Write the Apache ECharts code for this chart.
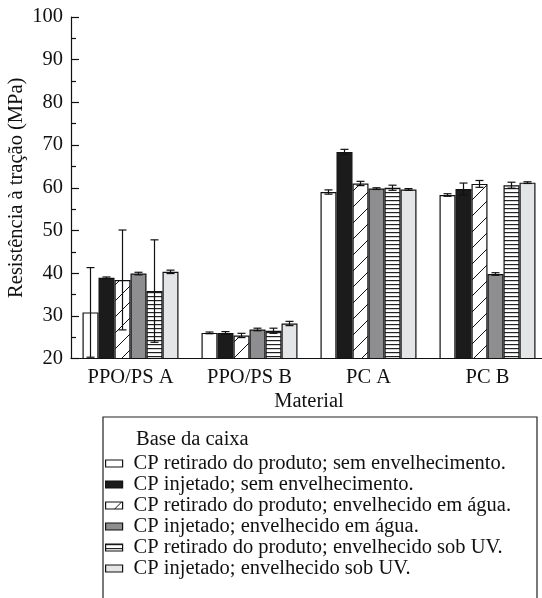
<!DOCTYPE html>
<html><head><meta charset="utf-8">
<script src="https://cdn.jsdelivr.net/npm/echarts@6/dist/echarts.min.js"></script>
<style>html,body{margin:0;padding:0;background:#fff}#c{width:542px;height:598px}</style>
</head><body><div id="c"></div>
<script>
const categories = ['PPO/PS A', 'PPO/PS B', 'PC A', 'PC B'];
const seriesNames = [
  'CP retirado do produto; sem envelhecimento.',
  'CP injetado; sem envelhecimento.',
  'CP retirado do produto; envelhecido em água.',
  'CP injetado; envelhecido em água.',
  'CP retirado do produto; envelhecido sob UV.',
  'CP injetado; envelhecido sob UV.'
];
const retiradoSem = [30.8, 26.0, 59.0, 58.3];
const retiradoSemErr = [10.5, 0.2, 0.5, 0.3];
const injetadoSem = [38.9, 26.0, 68.4, 59.7];
const injetadoSemErr = [0.2, 0.3, 0.6, 1.4];
const retiradoAgua = [38.4, 25.4, 61.0, 60.9];
const retiradoAguaErr = [11.7, 0.5, 0.5, 0.8];
const injetadoAgua = [39.9, 26.8, 59.8, 39.8];
const injetadoAguaErr = [0.3, 0.3, 0.2, 0.3];
const retiradoUV = [35.8, 26.5, 60.0, 60.6];
const retiradoUVErr = [12.0, 0.6, 0.6, 0.7];
const injetadoUV = [40.3, 28.2, 59.6, 61.2];
const injetadoUVErr = [0.4, 0.5, 0.2, 0.2];
const yTicks = [20, 30, 40, 50, 60, 70, 80, 90, 100];

const values = [retiradoSem, injetadoSem, retiradoAgua, injetadoAgua, retiradoUV, injetadoUV];
const errors = [retiradoSemErr, injetadoSemErr, retiradoAguaErr, injetadoAguaErr, retiradoUVErr, injetadoUVErr];

function diagPattern() {
  const c = document.createElement('canvas'); c.width = 16; c.height = 16;
  const g = c.getContext('2d');
  g.fillStyle = '#fff'; g.fillRect(0, 0, 16, 16);
  g.strokeStyle = '#111'; g.lineWidth = 1;
  g.beginPath(); g.moveTo(-1, 17); g.lineTo(17, -1); g.stroke();
  return {image: c, repeat: 'repeat'};
}
function stripePattern() {
  const c = document.createElement('canvas'); c.width = 8; c.height = 4;
  const g = c.getContext('2d');
  g.fillStyle = '#fff'; g.fillRect(0, 0, 8, 4);
  g.fillStyle = '#222'; g.fillRect(0, 0, 8, 1.2);
  return {image: c, repeat: 'repeat'};
}
const fills = ['#ffffff', '#1b1b1b', diagPattern(), '#8e8e90', stripePattern(), '#e4e5e7'];
const FONT = "'Liberation Serif', 'Times New Roman', serif";
const FS = 20.5;
const BW = 16;

const series = [];
values.forEach((v, i) => {
  series.push({
    type: 'bar', name: seriesNames[i], data: v, barWidth: BW, barGap: '0%',
    itemStyle: {color: fills[i], borderColor: '#111', borderWidth: 1.2},
    emphasis: {disabled: true}
  });
});
values.forEach((v, i) => {
  series.push({
    type: 'custom', name: 'err' + i, z: 5, silent: true,
    data: v.map((m, k) => [k, m, errors[i][k]]),
    renderItem: function (params, api) {
      const k = api.value(0), m = api.value(1), e = api.value(2);
      const off = (i - 2.5) * BW;
      const top = api.coord([k, m + e]);
      const bot = api.coord([k, m - e]);
      const x = top[0] + off;
      const cw = 4;
      const st = {stroke: '#111', lineWidth: 1.2};
      return {type: 'group', children: [
        {type: 'line', shape: {x1: x, y1: top[1], x2: x, y2: bot[1]}, style: st},
        {type: 'line', shape: {x1: x - cw, y1: top[1], x2: x + cw, y2: top[1]}, style: st},
        {type: 'line', shape: {x1: x - cw, y1: bot[1], x2: x + cw, y2: bot[1]}, style: st}
      ]};
    }
  });
});

const chart = echarts.init(document.getElementById('c'), null, {renderer: 'canvas'});
chart.setOption({
  animation: false,
  backgroundColor: '#fff',
  textStyle: {fontFamily: FONT, color: '#111'},
  grid: {left: 71, top: 17, bottom: 239.5, right: -5, containLabel: false, outerBoundsMode: 'none'},
  xAxis: {
    type: 'category', data: categories,
    name: 'Material', nameLocation: 'middle', nameGap: 33, nameMoveOverlap: false,
    nameTextStyle: {fontFamily: FONT, fontSize: FS, color: '#111'},
    axisLine: {lineStyle: {color: '#111', width: 1.2}},
    axisTick: {alignWithLabel: true, length: 6, lineStyle: {color: '#111', width: 1.2}},
    axisLabel: {fontFamily: FONT, fontSize: FS, color: '#111', margin: 9}
  },
  yAxis: {
    type: 'value', min: yTicks[0], max: yTicks[yTicks.length - 1], interval: 10,
    name: 'Resistência à tração (MPa)', nameLocation: 'middle', nameGap: 44, nameRotate: 90,
    nameMoveOverlap: false,
    nameTextStyle: {fontFamily: FONT, fontSize: FS, color: '#111'},
    axisLine: {show: true, lineStyle: {color: '#111', width: 1.2}},
    axisTick: {show: true, inside: true, length: 8, lineStyle: {color: '#111', width: 1.2}},
    minorTick: {show: true, splitNumber: 2, length: 5, lineStyle: {color: '#111', width: 1.2}},
    splitLine: {show: false},
    axisLabel: {fontFamily: FONT, fontSize: FS, color: '#111', margin: 8}
  },
  legend: {
    data: seriesNames, orient: 'vertical', left: 105, top: 453,
    itemWidth: 17, itemHeight: 7, itemGap: 0, padding: 0, icon: 'rect',
    itemStyle: {borderColor: '#111', borderWidth: 1.2},
    textStyle: {fontFamily: FONT, fontSize: FS, color: '#111', lineHeight: 20.3, padding: [0, 0, 0, 6]},
    selectedMode: false
  },
  graphic: [
    {type: 'rect', shape: {x: 103, y: 417, width: 434, height: 200},
     style: {fill: 'none', stroke: '#222', lineWidth: 1.2}, silent: true},
    {type: 'text', x: 136, y: 440, style: {text: 'Base da caixa', fontFamily: FONT, fontSize: FS, fill: '#111', verticalAlign: 'middle'}}
  ],
  series: series
});
</script></body></html>
